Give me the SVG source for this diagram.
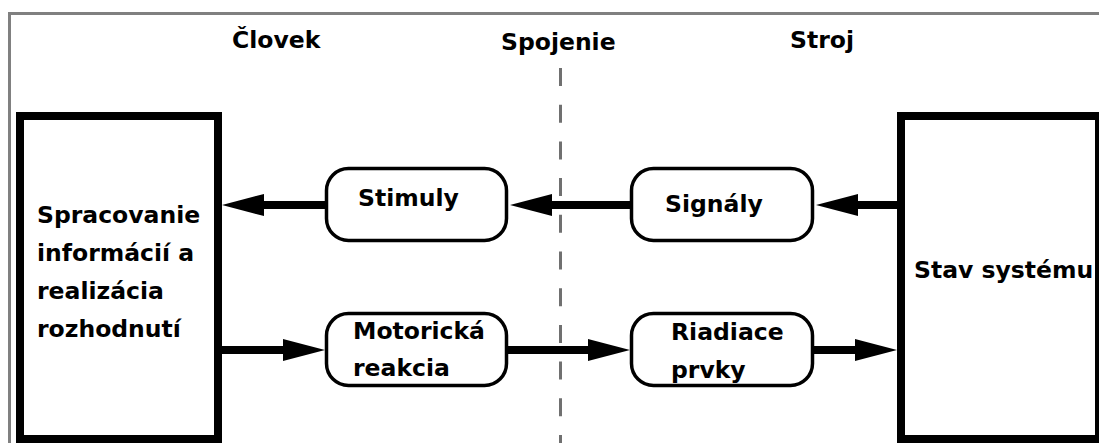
<svg xmlns="http://www.w3.org/2000/svg" width="1099" height="443" viewBox="0 0 1099 443">
<style>
text{font-family:"DejaVu Sans","Liberation Sans",sans-serif;font-weight:bold;font-size:23.5px;fill:#000}
.big{fill:#fff;stroke:#000;stroke-width:8}
.rnd{fill:#fff;stroke:#000;stroke-width:3.5}
.con{stroke:#000;stroke-width:8;fill:none;marker-end:url(#ah)}
.frame{fill:none;stroke:#808080;stroke-width:3}
.dash{stroke:#707070;stroke-width:3;stroke-dasharray:18 18.7;fill:none}
</style>
<defs>
<marker id="ah" markerUnits="userSpaceOnUse" markerWidth="44" markerHeight="24" refX="22" refY="12" orient="auto" viewBox="0 0 44 24">
<path d="M0,1 L42,12 L0,23 z" fill="#000"/>
</marker>
</defs>
<rect width="1099" height="443" fill="#fff"/>
<path class="frame" d="M9.5,443 V13.5 H1099"/>
<g id="labels">
<text x="232" y="48">Človek</text>
<text x="501" y="50">Spojenie</text>
<text x="790" y="48">Stroj</text>
</g>
<path class="dash" d="M560.5,68 V443"/>
<g id="connectors">
<path class="con" d="M897,205 H836"/>
<path class="con" d="M630,205 H530"/>
<path class="con" d="M325,205 H242"/>
<path class="con" d="M222,350 H305"/>
<path class="con" d="M508,350 H610"/>
<path class="con" d="M813,350 H877"/>
</g>
<g id="human">
<rect class="big" x="20" y="116" width="198" height="323"/>
<text x="37" y="223">Spracovanie</text>
<text x="37" y="261">informácií a</text>
<text x="37" y="299">realizácia</text>
<text x="37" y="337">rozhodnutí</text>
</g>
<g id="stimuly">
<rect class="rnd" x="326.5" y="168.5" width="180" height="72" rx="22"/>
<text x="358" y="206">Stimuly</text>
</g>
<g id="signaly">
<rect class="rnd" x="631.5" y="168.5" width="181" height="72" rx="22"/>
<text x="665" y="212">Signály</text>
</g>
<g id="motoricka">
<rect class="rnd" x="326.5" y="313.5" width="180" height="72" rx="22"/>
<text x="353" y="339">Motorická</text>
<text x="353" y="376">reakcia</text>
</g>
<g id="riadiace">
<rect class="rnd" x="631.5" y="313.5" width="181" height="72" rx="22"/>
<text x="671" y="340">Riadiace</text>
<text x="671" y="378">prvky</text>
</g>
<g id="stav">
<rect class="big" x="901" y="116" width="198" height="323"/>
<text x="914" y="278">Stav systému</text>
</g>
</svg>
